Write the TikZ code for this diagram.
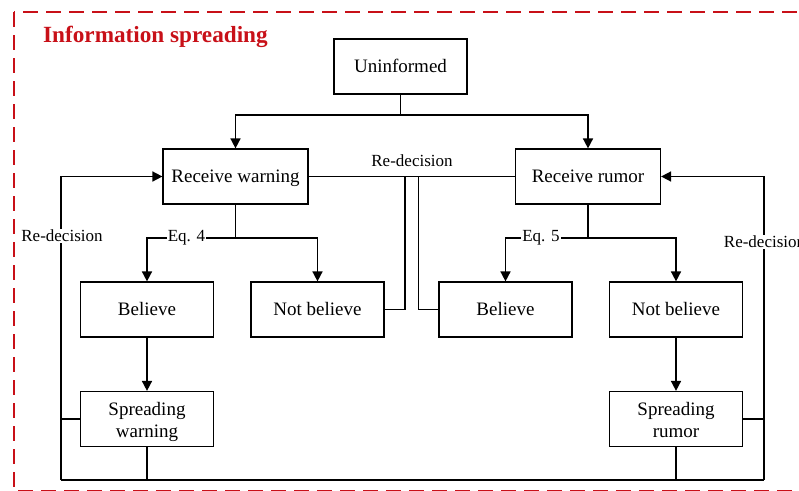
\documentclass[tikz,border=0pt]{standalone}
\usepackage{fontspec}
\setmainfont{Liberation Serif}
\usetikzlibrary{arrows.meta}
\definecolor{framered}{RGB}{200,16,24}
\begin{document}
\begin{tikzpicture}[x=1pt,y=-1pt,
  box/.style={draw,line width=1.2pt,minimum width=133pt,minimum height=55pt,
    inner sep=0pt,align=center,font=\fontsize{19}{22}\selectfont},
  single/.style={box,text height=14pt,text depth=2pt},
  wide/.style={single,minimum width=145pt},
  link/.style={line width=1.6pt},
  arrow/.style={link,-{Triangle[length=10pt,width=10pt]}},
  tag/.style={font=\fontsize{17}{20}\selectfont,inner sep=1pt,fill=white}]
\useasboundingbox (0,0) rectangle (799,490);

% dashed frame and title
\draw[framered,line width=2pt,dash pattern=on 15pt off 8pt] (14,12) rectangle (812,490.8);
\node[anchor=base west,text=framered,inner sep=0pt,
  font=\bfseries\fontsize{23.2}{27}\selectfont] (title) at (43,42.5) {Information spreading};

% states
\node[single] (un) at (400.5,66.5) {Uninformed};
\node[wide]   (rw) at (235.5,176.5) {Receive warning};
\node[wide]   (rr) at (588,176.5) {Receive rumor};
\node[single] (bw) at (147,309.5) {Believe};
\node[single] (nw) at (317.5,309.5) {Not believe};
\node[single] (br) at (505.5,309.5) {Believe};
\node[single] (nr) at (676,309.5) {Not believe};
\node[box]    (sw) at (147,419) {\rule{0pt}{21.4pt}Spreading\\warning\strut};
\node[box]    (sr) at (676,419) {\rule{0pt}{21.4pt}Spreading\\rumor\strut};

% branching points and loop corners
\coordinate (split) at (400.5,115);
\coordinate (e4) at (235.5,238);
\coordinate (e5) at (588,238);
\coordinate (m1) at (405,176.5);
\coordinate (m2) at (418.3,176.5);
\coordinate (lb) at (61,480);
\coordinate (lt) at (61,176.5);
\coordinate (lj) at (61,419);
\coordinate (rb) at (764,480);
\coordinate (rt) at (764,176.5);
\coordinate (rj) at (764,419);

% first contact
\draw[link] (un.south) -- (split);
\draw[arrow] (split) -| (rw.north);
\draw[arrow] (split) -| (rr.north);

% decisions
\draw[link] (rw.south) -- (e4);
\draw[arrow] (e4) -| (bw.north);
\draw[arrow] (e4) -| (nw.north);
\draw[link] (rr.south) -- (e5);
\draw[arrow] (e5) -| (br.north);
\draw[arrow] (e5) -| (nr.north);
\node[tag] (eq4) at (186.5,238) {Eq. 4};
\node[tag] (eq5) at (541,238) {Eq. 5};

% spreading
\draw[arrow] (bw) -- (sw);
\draw[arrow] (nr) -- (sr);

% middle re-decision
\draw[link] (rw.east) -- (rr.west);
\draw[link] (nw.east) -| (m1);
\draw[link] (br.west) -| (m2);
\node[font=\fontsize{17}{20}\selectfont,inner sep=0pt] (rdm) at (412,161) {Re-decision};

% outer re-decision loops
\draw[link] (lb) -- (rb);
\draw[arrow] (lb) -- (lt) -- (rw.west);
\draw[link] (sw.west) -- (lj);
\draw[link] (sw.south) -- (sw.south |- lb);
\draw[arrow] (rb) -- (rt) -- (rr.east);
\draw[link] (sr.east) -- (rj);
\draw[link] (sr.south) -- (sr.south |- rb);
\node[tag] (rdl) at (62,236) {Re-decision};
\node[tag] (rdr) at (764.5,242) {Re-decision};
\end{tikzpicture}
\end{document}
